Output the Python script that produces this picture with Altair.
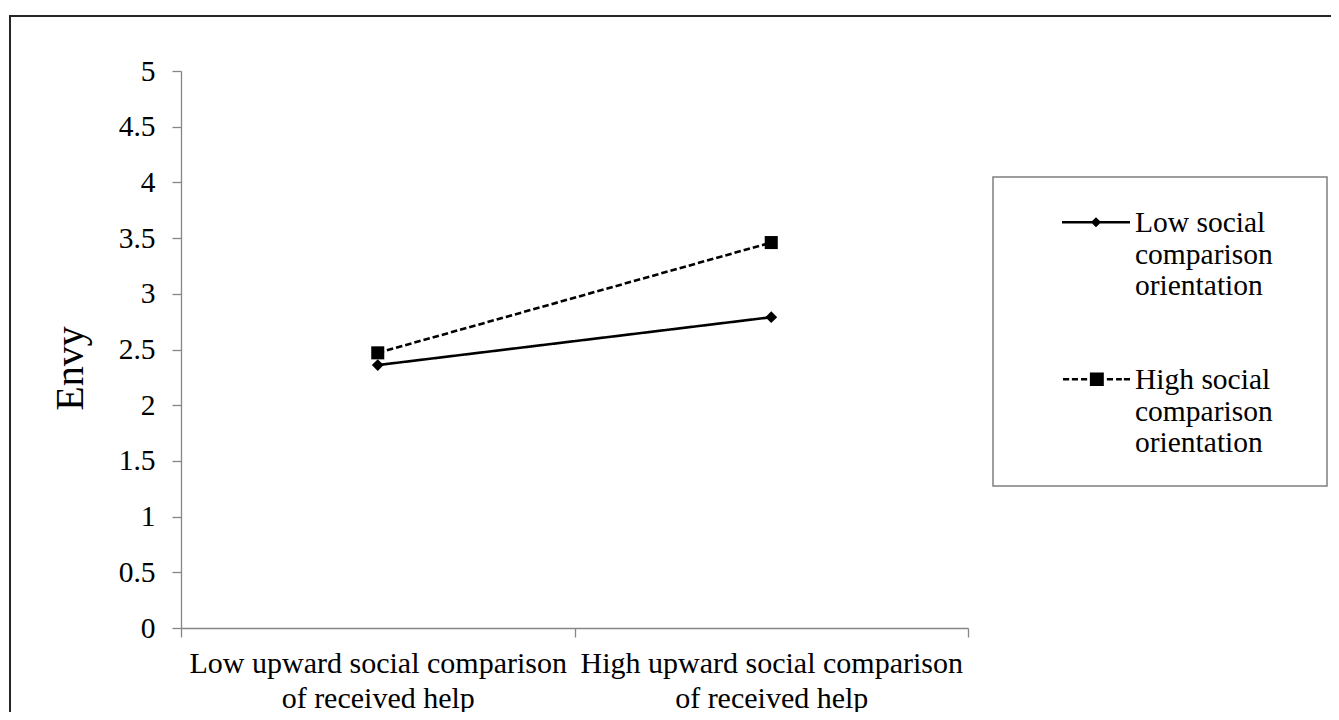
import altair as alt
import pandas as pd

# ---- data ----
conditions = [
    "Low upward social comparison of received help",
    "High upward social comparison of received help",
]
series_names = [
    "Low social comparison orientation",
    "High social comparison orientation",
]
low_sco = [2.36, 2.79]
high_sco = [2.47, 3.46]
y_ticks = [0, 0.5, 1, 1.5, 2, 2.5, 3, 3.5, 4, 4.5, 5]

rows = []
for s, vals in zip(series_names, [low_sco, high_sco]):
    for c, v in zip(conditions, vals):
        rows.append({"condition": c, "series": s, "envy": v})
df = pd.DataFrame(rows)

FONT = "Liberation Serif"
AXIS_GREY = "#868686"

# legend symbols: line + marker drawn as one filled custom path (style only)
DY = 0.39   # vertical offset of the symbol inside its box
H = 0.037   # half thickness of the line (in symbol units)


def seg(a, b):
    return f"M{a},{DY - H:.3f}H{b}V{DY + H:.3f}H{a}Z"


path_low = seg(-1, 1) + (
    f"M-0.15,{DY}L0,{DY - 0.15:.3f}L0.15,{DY}L0,{DY + 0.15:.3f}Z"
)
dash_pairs = [(-0.97, -0.79), (-0.71, -0.53), (-0.44, -0.26),
              (0.32, 0.5), (0.59, 0.76), (0.82, 1.0)]
path_high = "".join(seg(a, b) for a, b in dash_pairs)
path_high += f"M-0.18,{DY - 0.2:.3f}H0.23V{DY + 0.2:.3f}H-0.18Z"

x_enc = alt.X(
    "condition:N",
    sort=conditions,
    bandPosition=0.5,
    scale=alt.Scale(type="band", domain=conditions, paddingInner=0, paddingOuter=0),
    axis=alt.Axis(
        title=None,
        labelExpr="datum.label ? [replace(datum.label, ' of received help', ''), 'of received help'] : ''",
        labelAngle=0,
        labelFont=FONT,
        labelFontSize=30,
        labelColor="black",
        labelLineHeight=35,
        labelPadding=11,
        labelLimit=800,
        labelOverlap=False,
        labelFlush=False,
        tickBand="extent",
        tickSize=9,
        tickColor=AXIS_GREY,
        tickWidth=1.3,
        domainColor=AXIS_GREY,
        domainWidth=1.3,
        grid=False,
    ),
)

y_enc = alt.Y(
    "envy:Q",
    scale=alt.Scale(domain=[0, 5], nice=False, zero=True),
    axis=alt.Axis(
        values=y_ticks,
        format="~g",
        labelFont=FONT,
        labelFontSize=29.5,
        labelColor="black",
        labelPadding=17,
        tickSize=9,
        tickColor=AXIS_GREY,
        tickWidth=1.3,
        domainColor=AXIS_GREY,
        domainWidth=1.3,
        grid=False,
        title="Envy",
        titleFont=FONT,
        titleFontSize=40,
        titleFontWeight="normal",
        titleColor="black",
        titleAngle=270,
        titleX=-99,
        titleY=297,
        titleAlign="center",
        titleBaseline="alphabetic",
    ),
)

base = alt.Chart(df)

lines = base.mark_line(color="black", strokeWidth=2.6).encode(
    x=x_enc,
    y=y_enc,
    strokeDash=alt.StrokeDash(
        "series:N",
        scale=alt.Scale(domain=series_names, range=[[1, 0], [6.5, 3]]),
        legend=None,
    ),
)

points = base.mark_point(filled=True, color="black", opacity=1).encode(
    x=x_enc,
    y=y_enc,
    shape=alt.Shape(
        "series:N",
        scale=alt.Scale(domain=series_names, range=["diamond", "square"]),
        legend=None,
    ),
    size=alt.Size(
        "series:N",
        scale=alt.Scale(domain=series_names, range=[140, 170]),
        legend=None,
    ),
)

legend_layer = base.transform_filter("false").mark_point(
    filled=True, color="black"
).encode(
    x=x_enc,
    y=y_enc,
    shape=alt.Shape(
        "series:N",
        scale=alt.Scale(domain=series_names, range=[path_low, path_high]),
        legend=alt.Legend(
            orient="none",
            legendX=881,
            legendY=104,
            title=None,
            padding=0,
            labelExpr="[replace(datum.label, ' comparison orientation', ''), 'comparison', 'orientation']",
            labelFont=FONT,
            labelFontSize=29.5,
            labelColor="black",
            labelLimit=600,
            labelOffset=5,
            labelBaseline="top",
            symbolSize=4624,
            symbolStrokeWidth=0,
            symbolFillColor="black",
            symbolOpacity=1,
            rowPadding=31,
        ),
    ),
)

deco_data = alt.Data(values=[{"k": 0}])

outer_frame = alt.Chart(deco_data).mark_rect(
    fillOpacity=0, stroke="#262626", strokeWidth=2
).encode(
    x=alt.value(-171), x2=alt.value(1200), y=alt.value(-55), y2=alt.value(700)
)

legend_box = alt.Chart(deco_data).mark_rect(
    fillOpacity=0, stroke="#7f7f7f", strokeWidth=1.5
).encode(
    x=alt.value(812), x2=alt.value(1146), y=alt.value(106), y2=alt.value(415)
)

chart = (
    alt.layer(outer_frame, legend_box, lines, points, legend_layer)
    .resolve_scale(shape="independent")
    .properties(
        width=787,
        height=557,
        padding={"left": 173, "top": 63, "right": 363, "bottom": 84},
        autosize=alt.AutoSizeParams(type="none"),
        background="white",
    )
    .configure_view(strokeWidth=0)
    .configure_axis(labelFont=FONT, titleFont=FONT)
    .configure_legend(labelFont=FONT)
)

chart.save("out.html", embed_options={"renderer": "svg", "actions": False})
